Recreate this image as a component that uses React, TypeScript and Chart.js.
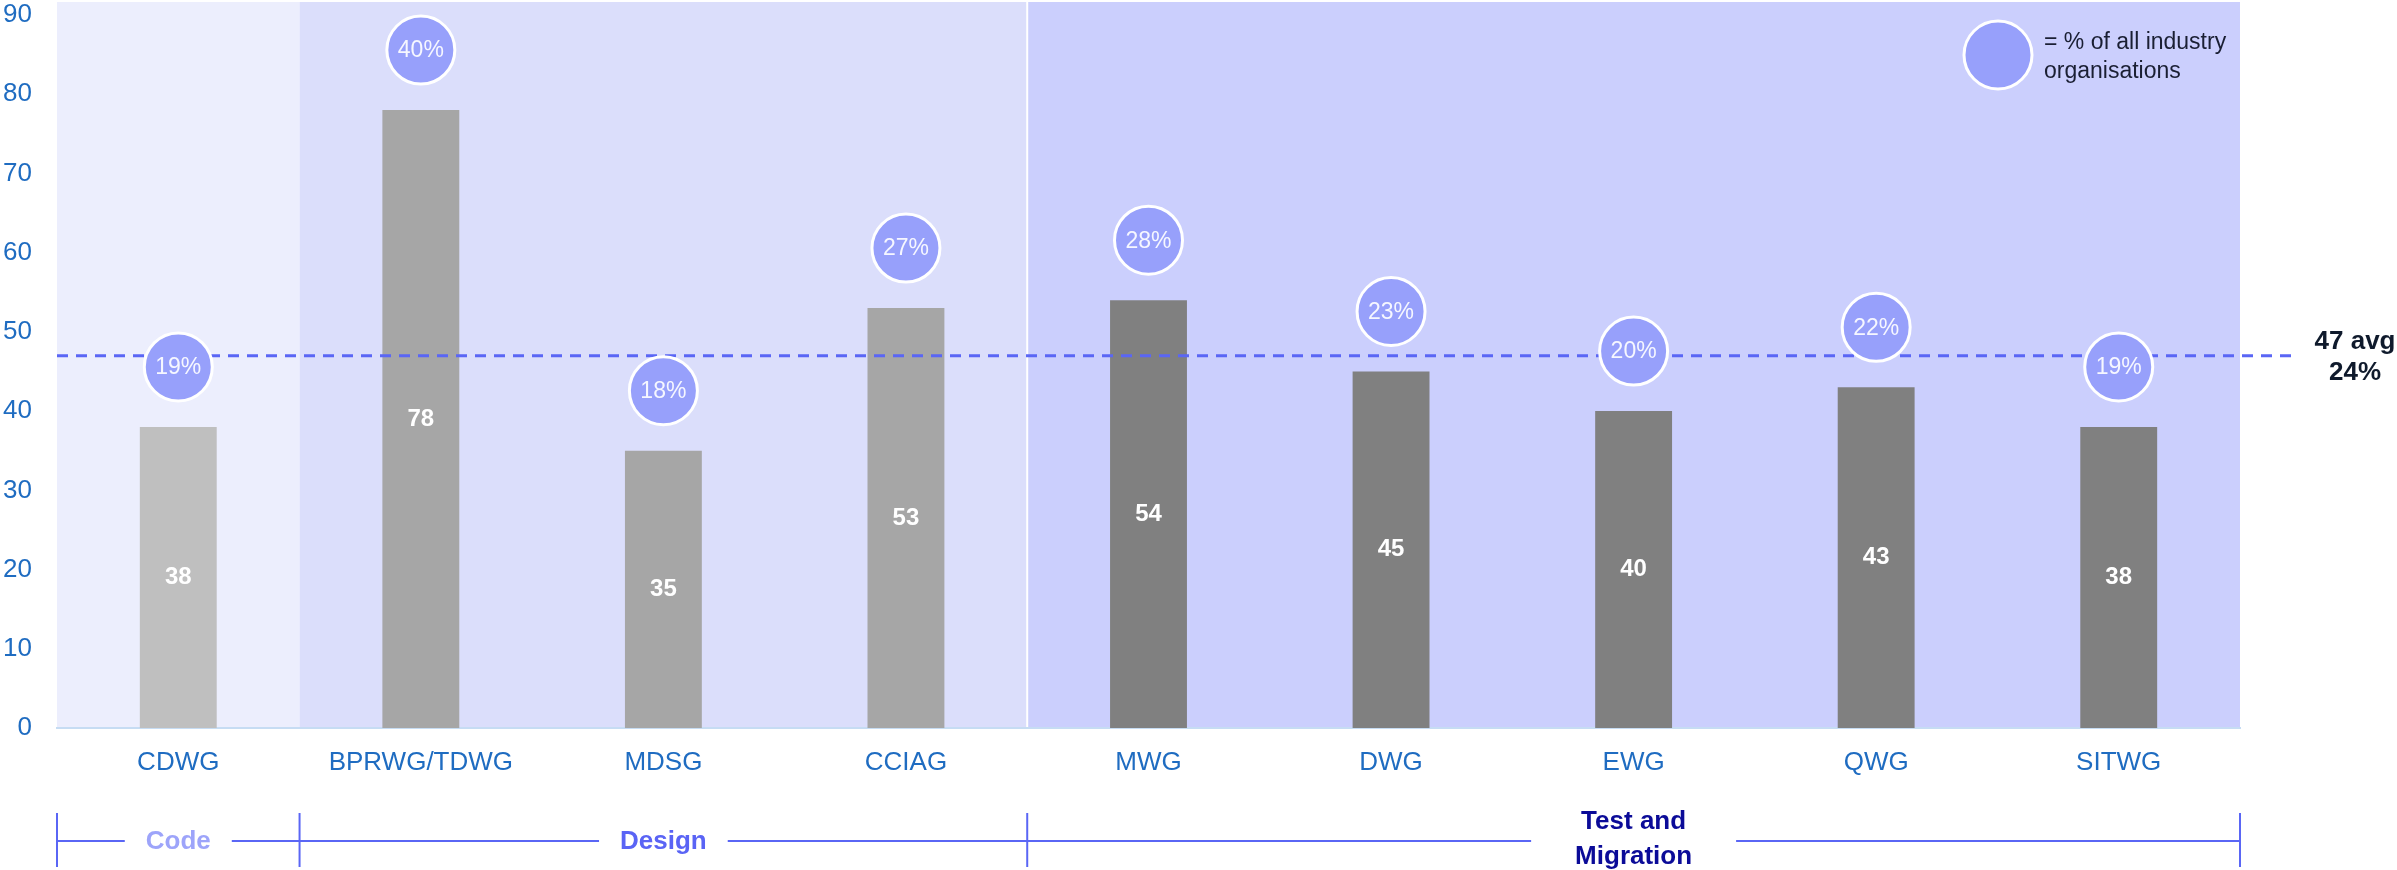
import React, { useEffect, useRef } from 'react';
import { Chart, registerables } from 'chart.js';

Chart.register(...registerables);

// Working groups and their member-organisation counts
const CATEGORIES = ['CDWG', 'BPRWG/TDWG', 'MDSG', 'CCIAG', 'MWG', 'DWG', 'EWG', 'QWG', 'SITWG'];
const MEMBERS = [38, 78, 35, 53, 54, 45, 40, 43, 38];
// Share of all industry organisations (%)
const SHARE_PCT = [19, 40, 18, 27, 28, 23, 20, 22, 19];

// Phase groups: how many consecutive working groups each spans
const GROUP_LABELS = [['Code'], ['Design'], ['Test and', 'Migration']];
const GROUP_SIZES = [1, 3, 5];

const AVG_MEMBERS = 47;
const AVG_SHARE = 24;
const LEGEND_LINES = ['= % of all industry', 'organisations'];

const FONT = '"Liberation Sans", Arial, Helvetica, sans-serif';
const GROUP_BG = ['#ECEEFD', '#DBDEFB', '#CBCFFD'];
const GROUP_BAR = ['#BFBFBF', '#A6A6A6', '#808080'];
const GROUP_TEXT = ['#9DA4FA', '#5A64F5', '#0B0B98'];
const AXIS_BLUE = '#1F6CC1';
const LINE_BLUE = '#5A66F5';
const BUBBLE = '#97A0FB';

const groupIndexOf = (i: number) => {
  let acc = 0;
  for (let g = 0; g < GROUP_SIZES.length; g++) {
    acc += GROUP_SIZES[g];
    if (i < acc) return g;
  }
  return GROUP_SIZES.length - 1;
};

// Pixel edges of each phase band along the x axis
const groupEdges = (chart: any) => {
  const x = chart.scales.x;
  const area = chart.chartArea;
  const edges = [area.left];
  let idx = 0;
  for (const n of GROUP_SIZES) {
    idx += n;
    if (idx < CATEGORIES.length) {
      edges.push((x.getPixelForValue(idx - 1) + x.getPixelForValue(idx)) / 2);
    } else {
      edges.push(area.right);
    }
  }
  return edges;
};

const drawBubble = (ctx: CanvasRenderingContext2D, cx: number, cy: number, r: number) => {
  ctx.beginPath();
  ctx.arc(cx, cy, r, 0, Math.PI * 2);
  ctx.fillStyle = BUBBLE;
  ctx.fill();
  ctx.lineWidth = 3;
  ctx.strokeStyle = '#FFFFFF';
  ctx.stroke();
};

const bandsPlugin = {
  id: 'phaseBands',
  beforeDraw(chart: any) {
    const { ctx, chartArea: area } = chart;
    const edges = groupEdges(chart);
    const top = area.top - 13;
    ctx.save();
    for (let g = 0; g < GROUP_SIZES.length; g++) {
      ctx.fillStyle = GROUP_BG[g];
      ctx.fillRect(edges[g], top, edges[g + 1] - edges[g], area.bottom - top);
    }
    // thin white divider before the last phase
    const d = edges[GROUP_SIZES.length - 1];
    ctx.fillStyle = '#FFFFFF';
    ctx.fillRect(d - 1, top, 2, area.bottom - top);
    ctx.restore();
  },
};

const overlayPlugin = {
  id: 'overlay',
  afterDatasetsDraw(chart: any) {
    const { ctx, chartArea: area } = chart;
    const y = chart.scales.y;
    const meta = chart.getDatasetMeta(0);
    ctx.save();

    // values inside bars
    ctx.textAlign = 'center';
    ctx.textBaseline = 'middle';
    ctx.fillStyle = '#FFFFFF';
    ctx.font = `bold 24px ${FONT}`;
    meta.data.forEach((bar: any, i: number) => {
      ctx.fillText(String(MEMBERS[i]), bar.x, (bar.y + bar.base) / 2);
    });

    // average line
    const avgY = y.getPixelForValue(AVG_MEMBERS);
    ctx.beginPath();
    ctx.setLineDash([11, 8]);
    ctx.lineWidth = 3;
    ctx.strokeStyle = LINE_BLUE;
    ctx.moveTo(area.left, avgY);
    ctx.lineTo(area.right + 53, avgY);
    ctx.stroke();
    ctx.setLineDash([]);

    // share bubbles above each bar
    meta.data.forEach((bar: any, i: number) => {
      const cy = y.getPixelForValue(MEMBERS[i]) - 60;
      drawBubble(ctx, bar.x, cy, 34);
      ctx.fillStyle = '#F6F7FF';
      ctx.font = `23px ${FONT}`;
      ctx.fillText(`${SHARE_PCT[i]}%`, bar.x, cy + 1);
    });

    // average label
    ctx.fillStyle = '#0F1A2C';
    ctx.font = `bold 26px ${FONT}`;
    ctx.fillText(`${AVG_MEMBERS} avg`, area.right + 115, avgY - 14);
    ctx.fillText(`${AVG_SHARE}%`, area.right + 115, avgY + 17);

    // legend
    const lx = area.right - 242;
    const ly = area.top + 40;
    drawBubble(ctx, lx, ly, 34);
    ctx.textAlign = 'left';
    ctx.fillStyle = '#1A1F33';
    ctx.font = `23px ${FONT}`;
    ctx.fillText(LEGEND_LINES[0], lx + 46, ly - 12);
    ctx.fillText(LEGEND_LINES[1], lx + 46, ly + 17);

    // phase brackets under the axis
    const edges = groupEdges(chart);
    const by = area.bottom + 113;
    ctx.strokeStyle = LINE_BLUE;
    ctx.lineWidth = 2;
    edges.forEach((ex: number) => {
      ctx.beginPath();
      ctx.moveTo(ex, area.bottom + 85);
      ctx.lineTo(ex, area.bottom + 139);
      ctx.stroke();
    });
    ctx.textAlign = 'center';
    ctx.font = `bold 26px ${FONT}`;
    for (let g = 0; g < GROUP_SIZES.length; g++) {
      const lines = GROUP_LABELS[g];
      const cx = (edges[g] + edges[g + 1]) / 2;
      const w = Math.max(...lines.map((l) => ctx.measureText(l).width));
      const half = w / 2 + (lines.length > 1 ? 44 : 21);
      ctx.beginPath();
      ctx.moveTo(edges[g], by);
      ctx.lineTo(cx - half, by);
      ctx.moveTo(cx + half, by);
      ctx.lineTo(edges[g + 1], by);
      ctx.stroke();
      ctx.fillStyle = GROUP_TEXT[g];
      if (lines.length === 1) {
        ctx.fillText(lines[0], cx, by + 1);
      } else {
        ctx.fillText(lines[0], cx, by - 19);
        ctx.fillText(lines[1], cx, by + 16);
      }
    }
    ctx.restore();
  },
};

export default function App() {
  const ref = useRef<HTMLCanvasElement>(null);

  useEffect(() => {
    document.body.style.margin = '0';
    const chart = new Chart(ref.current as HTMLCanvasElement, {
      type: 'bar',
      data: {
        labels: CATEGORIES,
        datasets: [
          {
            data: MEMBERS,
            backgroundColor: CATEGORIES.map((_, i) => GROUP_BAR[groupIndexOf(i)]),
            barPercentage: 0.317,
            categoryPercentage: 1,
          },
        ],
      },
      options: {
        responsive: false,
        animation: false,
        layout: { autoPadding: false, padding: { top: 15, right: 157, left: 0, bottom: 0 } },
        plugins: { legend: { display: false }, tooltip: { enabled: false } },
        scales: {
          x: {
            grid: { display: false, drawTicks: false },
            border: { display: true, color: '#C6DCF3', width: 2 },
            ticks: { color: AXIS_BLUE, font: { family: FONT, size: 26 }, padding: 19 },
            afterFit: (scale: any) => {
              scale.height = 142;
              scale.paddingLeft = 0;
              scale.paddingRight = 0;
            },
          },
          y: {
            min: 0,
            max: 90,
            grid: { display: false, drawTicks: false },
            border: { display: false },
            ticks: { stepSize: 10, color: AXIS_BLUE, font: { family: FONT, size: 26 }, padding: 25 },
            afterFit: (scale: any) => {
              scale.width = 57;
              scale.paddingTop = 0;
              scale.paddingBottom = 0;
            },
          },
        },
      },
      plugins: [bandsPlugin, overlayPlugin],
    });
    return () => chart.destroy();
  }, []);

  return (
    <div style={{ width: 2397, height: 870 }}>
      <canvas ref={ref} width={2397} height={870} style={{ display: 'block' }} />
    </div>
  );
}
